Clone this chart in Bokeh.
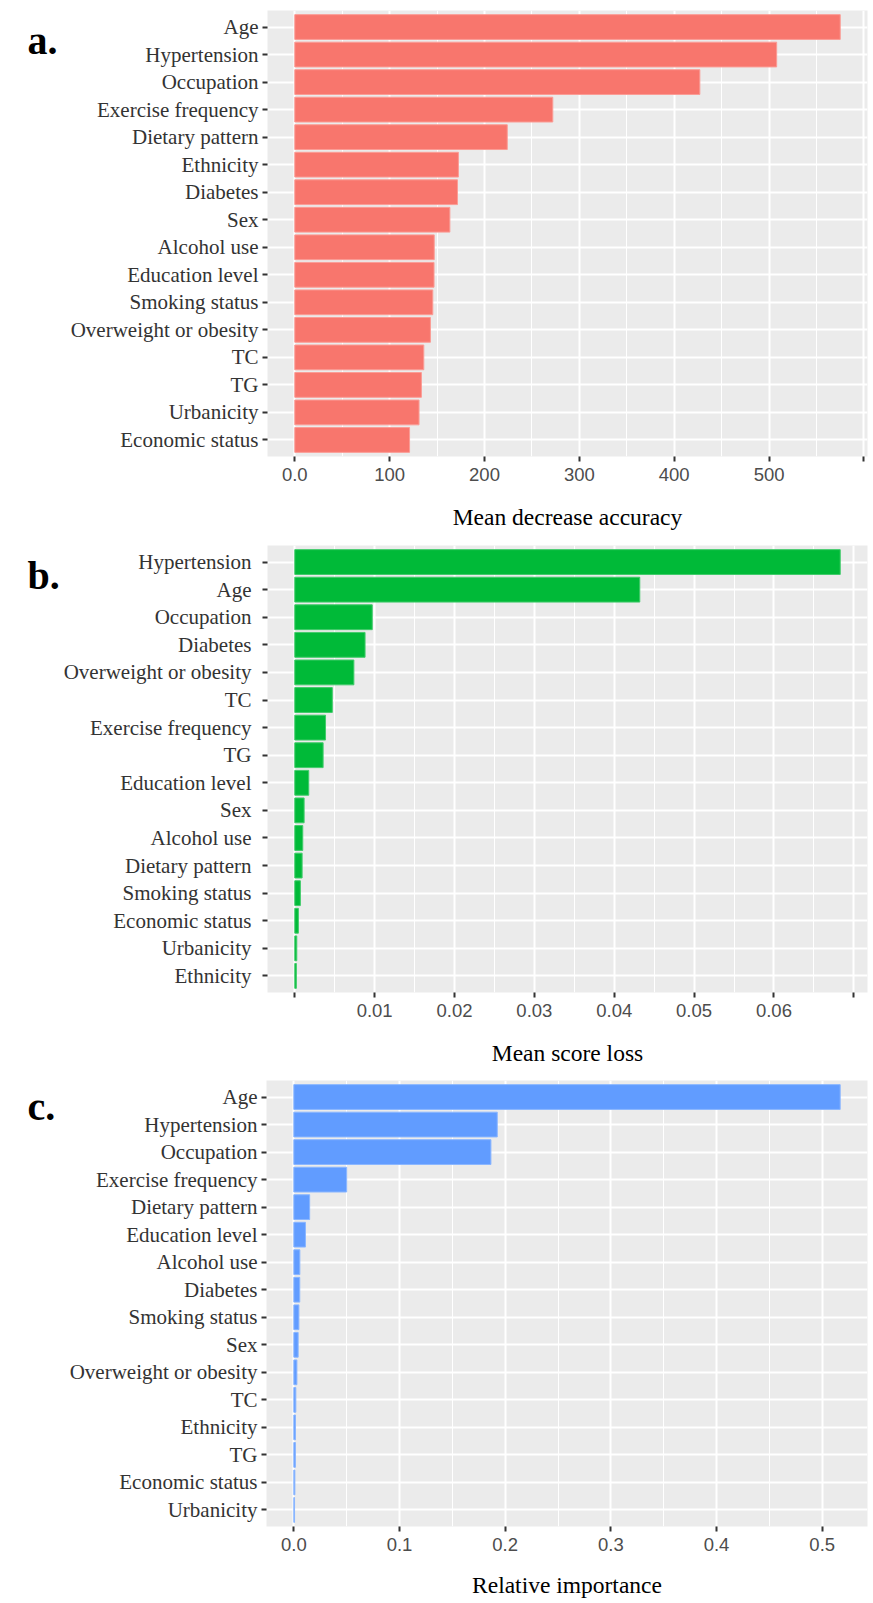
from bokeh.plotting import figure
from bokeh.layouts import column, row
from bokeh.models import ColumnDataSource, FactorRange, Range1d, FixedTicker, CustomJSTickFormatter
from bokeh.core.properties import value
from bokeh.embed import file_html
from bokeh.resources import INLINE

# ---------------- data ----------------
cats_a = ["Age", "Hypertension", "Occupation", "Exercise frequency", "Dietary pattern",
          "Ethnicity", "Diabetes", "Sex", "Alcohol use", "Education level", "Smoking status",
          "Overweight or obesity", "TC", "TG", "Urbanicity", "Economic status"]
vals_a = [575, 508, 427, 272, 224, 172.5, 171.5, 163.5, 147, 146.8, 145.5, 143, 136, 133.5, 131, 121]

cats_b = ["Hypertension", "Age", "Occupation", "Diabetes", "Overweight or obesity", "TC",
          "Exercise frequency", "TG", "Education level", "Sex", "Alcohol use", "Dietary pattern",
          "Smoking status", "Economic status", "Urbanicity", "Ethnicity"]
vals_b = [0.0683, 0.0432, 0.0097, 0.0088, 0.0074, 0.0047, 0.00385, 0.00355, 0.00175, 0.00117,
          0.0010, 0.00092, 0.0007, 0.00045, 0.00025, 0.0002]

cats_c = ["Age", "Hypertension", "Occupation", "Exercise frequency", "Dietary pattern",
          "Education level", "Alcohol use", "Diabetes", "Smoking status", "Sex",
          "Overweight or obesity", "TC", "Ethnicity", "TG", "Economic status", "Urbanicity"]
vals_c = [0.517, 0.1925, 0.1865, 0.050, 0.0150, 0.0110, 0.0057, 0.0056, 0.0048, 0.0041,
          0.0029, 0.0019, 0.0016, 0.0015, 0.0010, 0.0007]

ticks_a = [0, 100, 200, 300, 400, 500, 600]
labels_a = ["0.0", "100", "200", "300", "400", "500", ""]
ticks_b = [0, 0.01, 0.02, 0.03, 0.04, 0.05, 0.06, 0.07]
labels_b = ["", "0.01", "0.02", "0.03", "0.04", "0.05", "0.06", ""]
ticks_c = [0, 0.1, 0.2, 0.3, 0.4, 0.5]
labels_c = ["0.0", "0.1", "0.2", "0.3", "0.4", "0.5"]

titles = ["Mean decrease accuracy", "Mean score loss", "Relative importance"]
letters = ["a.", "b.", "c."]
colors = ["#F8766D", "#00BA38", "#619CFF"]
edges = ["#FB9C95", "#40CB6A", "#8AB6FF"]

LW = 60          # width of the letter strip
TOTAL_W = 872


def letter_strip(letter, H, ly):
    q = figure(width=LW, height=H, x_range=Range1d(0, LW), y_range=Range1d(H, 0),
               x_axis_location=None, y_axis_location=None,
               min_border=0, output_backend="svg", toolbar_location=None, tools="")
    q.outline_line_color = None
    q.background_fill_color = "white"
    q.border_fill_color = "white"
    q.xgrid.visible = False
    q.ygrid.visible = False
    q.text(x=[27], y=[ly], text=[letter], text_font=value("Liberation Serif"),
           text_font_size="40px", text_font_style="bold", text_color="black",
           text_align="left", text_baseline="middle")
    return q


def panel(cats, vals, ticks, labels, title, letter, color, edge,
          left, fw, top, fh, bottom, ylab_standoff, xtitle_standoff, ly):
    vmax = max(vals)
    xr = Range1d(-0.05 * vmax, 1.05 * vmax)
    yr = FactorRange(factors=list(reversed(cats)), range_padding=0.1, range_padding_units="absolute")
    W = TOTAL_W - LW
    H = top + fh + bottom
    p = figure(x_range=xr, y_range=yr, width=W, height=H,
               frame_width=fw, frame_height=fh,
               min_border_left=left - LW, min_border_right=W - (left - LW) - fw,
               min_border_top=top, min_border_bottom=bottom,
               output_backend="svg", toolbar_location=None, tools="")
    p.background_fill_color = "#EBEBEB"
    p.border_fill_color = "white"
    p.outline_line_color = None

    src = ColumnDataSource(dict(cat=cats, val=vals))
    p.hbar(y="cat", right="val", left=0, height=0.9, source=src,
           fill_color=color, line_color=edge, line_width=1)

    minor = [(ticks[i] + ticks[i + 1]) / 2 for i in range(len(ticks) - 1)]
    p.xaxis.ticker = FixedTicker(ticks=ticks, minor_ticks=minor)
    p.xaxis.formatter = CustomJSTickFormatter(args=dict(t=ticks, l=labels), code="""
        let best = 0, d = Infinity;
        for (let i = 0; i < t.length; i++) { const dd = Math.abs(t[i] - tick); if (dd < d) { d = dd; best = i; } }
        return l[best];
    """)
    p.xgrid.grid_line_color = "white"
    p.xgrid.grid_line_width = 2
    p.xgrid.minor_grid_line_color = "white"
    p.xgrid.minor_grid_line_width = 1
    p.ygrid.grid_line_color = "white"
    p.ygrid.grid_line_width = 2

    for ax in (p.xaxis[0], p.yaxis[0]):
        ax.axis_line_color = None
        ax.major_tick_line_color = "#333333"
        ax.major_tick_line_width = 2
        ax.major_tick_out = 5
        ax.major_tick_in = 0
        ax.minor_tick_line_color = None

    p.xaxis.major_label_text_font = "Liberation Sans"
    p.xaxis.major_label_text_font_size = "18.5px"
    p.xaxis.major_label_text_color = "#4D4D4D"
    p.xaxis.major_label_standoff = 6
    p.xaxis.axis_label = title
    p.xaxis.axis_label_text_font = "Liberation Serif"
    p.xaxis.axis_label_text_font_size = "23.5px"
    p.xaxis.axis_label_text_font_style = "normal"
    p.xaxis.axis_label_text_color = "black"
    p.xaxis.axis_label_standoff = xtitle_standoff

    p.yaxis.major_label_text_font = "Liberation Serif"
    p.yaxis.major_label_text_font_size = "21px"
    p.yaxis.major_label_text_color = "#333333"
    p.yaxis.major_label_standoff = ylab_standoff

    return row(letter_strip(letter, H, ly), p, spacing=0)


pa = panel(cats_a, vals_a, ticks_a, labels_a, titles[0], letters[0], colors[0], edges[0],
           left=267, fw=600, top=10, fh=446, bottom=75, ylab_standoff=4, xtitle_standoff=20, ly=36)
pb = panel(cats_b, vals_b, ticks_b, labels_b, titles[1], letters[1], colors[1], edges[1],
           left=264, fw=600, top=13, fh=447, bottom=75, ylab_standoff=11, xtitle_standoff=20, ly=36)
pc = panel(cats_c, vals_c, ticks_c, labels_c, titles[2], letters[2], colors[2], edges[2],
           left=266, fw=601, top=12, fh=446, bottom=78, ylab_standoff=4, xtitle_standoff=18, ly=31)

layout = column(pa, pb, pc, spacing=0)
open("out.html", "w").write(file_html(layout, INLINE))
